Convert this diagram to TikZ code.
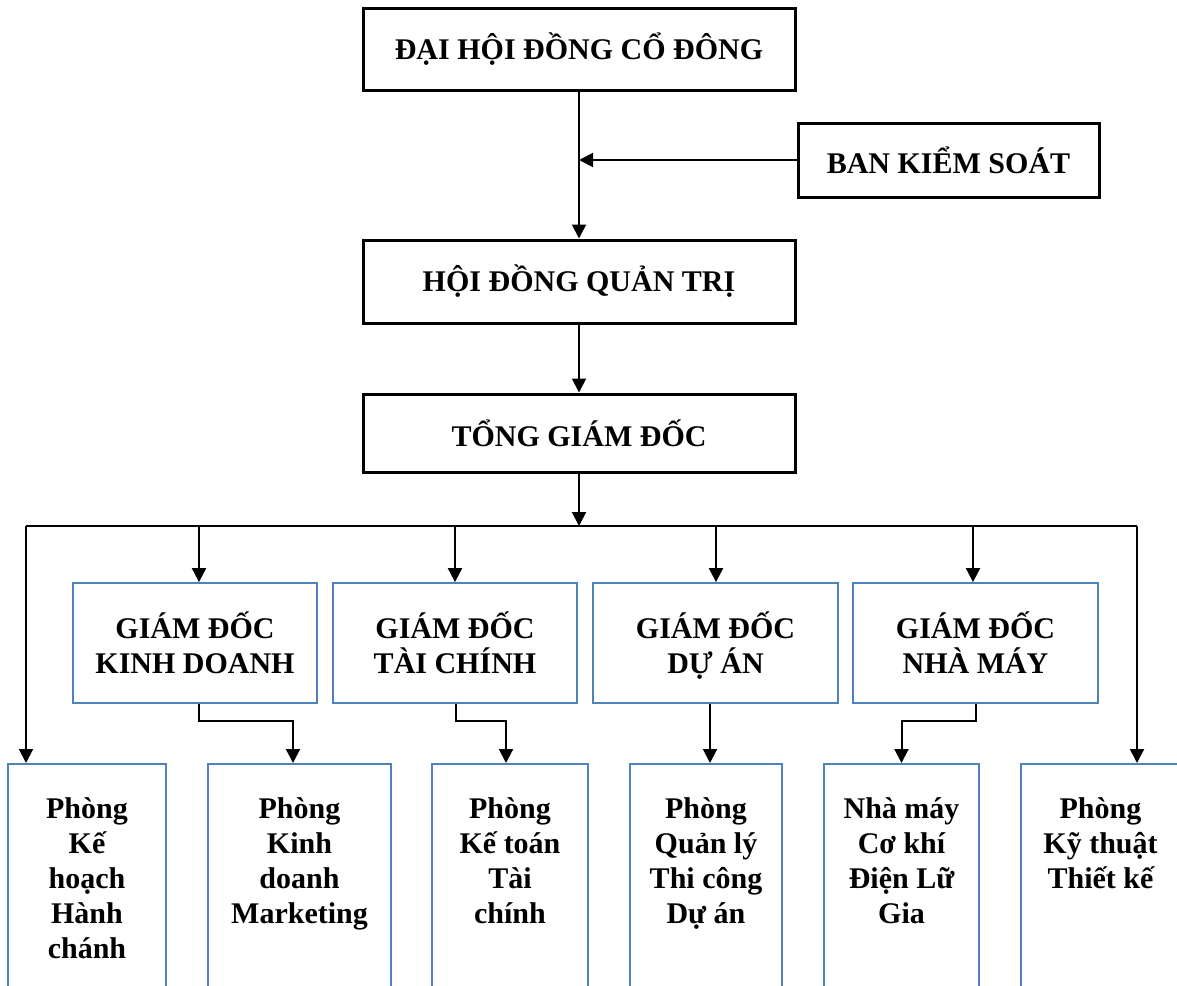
\documentclass[tikz,border=0pt]{standalone}
\usepackage{fontspec}
\setmainfont{Liberation Serif}
\usetikzlibrary{arrows.meta}
\definecolor{boxblue}{HTML}{4F81BD}
\tikzset{
  orgfont/.style={font=\fontsize{30}{35}\selectfont\bfseries},
  bigbox/.style={draw=black, line width=3pt, rectangle, inner sep=0pt, orgfont},
  gdbox/.style={draw=boxblue, line width=1.8pt, rectangle, inner sep=0pt, align=center, text depth=0pt, orgfont},
  deptbox/.style={draw=boxblue, line width=1.8pt, rectangle, inner sep=0pt, anchor=north, minimum height=260pt},
  depttext/.style={anchor=north, align=center, inner sep=0pt, orgfont},
  conn/.style={line width=2pt, -{Triangle[length=14pt,width=14pt]}},
  plainline/.style={line width=2pt}
}
\begin{document}
\begin{tikzpicture}[x=1pt,y=-1pt]
\clip (0,0) rectangle (1177,985);
% top level
\node[bigbox, minimum width=432pt, minimum height=82pt] (dhd) at (579,49) {ĐẠI HỘI ĐỒNG CỔ ĐÔNG};
\node[bigbox, minimum width=301pt, minimum height=74pt] (bks) at (948.5,160) {BAN KIỂM SOÁT};
\node[bigbox, minimum width=432pt, minimum height=83pt] (hdqt) at (579,281.5) {HỘI ĐỒNG QUẢN TRỊ};
\node[bigbox, minimum width=432pt, minimum height=78pt] (tgd) at (579,433) {TỔNG GIÁM ĐỐC};
% directors
\node[gdbox, minimum width=244pt, minimum height=120pt] (gd1) at (195,643) {GIÁM ĐỐC\\KINH DOANH};
\node[gdbox, minimum width=244pt, minimum height=120pt] (gd2) at (455,643) {GIÁM ĐỐC\\TÀI CHÍNH};
\node[gdbox, minimum width=245pt, minimum height=120pt] (gd3) at (715.5,643) {GIÁM ĐỐC\\DỰ ÁN};
\node[gdbox, minimum width=245pt, minimum height=120pt] (gd4) at (975.5,643) {GIÁM ĐỐC\\NHÀ MÁY};
% departments
\node[deptbox, minimum width=158pt] (p1) at (87,763) {};
\node[deptbox, minimum width=183pt] (p2) at (299.5,763) {};
\node[deptbox, minimum width=156pt] (p3) at (510,763) {};
\node[deptbox, minimum width=152pt] (p4) at (706,763) {};
\node[deptbox, minimum width=155pt] (p5) at (901.5,763) {};
\node[deptbox, minimum width=159pt] (p6) at (1100.5,763) {};
\node[depttext] (t1) at ([yshift=-30.5pt]p1.north) {\strut Phòng\\Kế\\hoạch\\Hành\\chánh};
\node[depttext] (t2) at ([yshift=-30.5pt]p2.north) {\strut Phòng\\Kinh\\doanh\\Marketing};
\node[depttext] (t3) at ([yshift=-30.5pt]p3.north) {\strut Phòng\\Kế toán\\Tài\\chính};
\node[depttext] (t4) at ([yshift=-30.5pt]p4.north) {\strut Phòng\\Quản lý\\Thi công\\Dự án};
\node[depttext] (t5) at ([yshift=-30.5pt]p5.north) {\strut Nhà máy\\Cơ khí\\Điện Lữ\\Gia};
\node[depttext] (t6) at ([yshift=-30.5pt]p6.north) {\strut Phòng\\Kỹ thuật\\Thiết kế};
% top connectors
\draw[conn] (dhd.south) -- (hdqt.north);
\draw[conn] (bks.west) -- (bks.west -| dhd.south);
\draw[conn] (hdqt.south) -- (tgd.north);
% bus
\coordinate (b0) at (26,526);
\coordinate (b7) at (1137,526);
\coordinate (d1) at (199,526);
\coordinate (d2) at (455,526);
\coordinate (d3) at (716,526);
\coordinate (d4) at (973,526);
\draw[plainline] (b0) -- (b7);
\draw[conn] (tgd.south) -- (tgd.south |- b0);
\draw[conn] (d1) -- (d1 |- gd1.north);
\draw[conn] (d2) -- (d2 |- gd2.north);
\draw[conn] (d3) -- (d3 |- gd3.north);
\draw[conn] (d4) -- (d4 |- gd4.north);
\draw[conn] (b0) -- (b0 |- p1.north);
\draw[conn] (b7) -- (b7 |- p6.north);
% second level
\draw[conn] (d1 |- gd1.south) -- ++(0,17) -| ([xshift=-6.5pt]p2.north);
\draw[conn] ([xshift=1pt]gd2.south) -- ++(0,17) -| ([xshift=-4pt]p3.north);
\draw[conn] ([xshift=4pt]p4.north |- gd3.south) -- ([xshift=4pt]p4.north);
\draw[conn] (gd4.south) -- ++(0,17) -| (p5.north);
\end{tikzpicture}
\end{document}
